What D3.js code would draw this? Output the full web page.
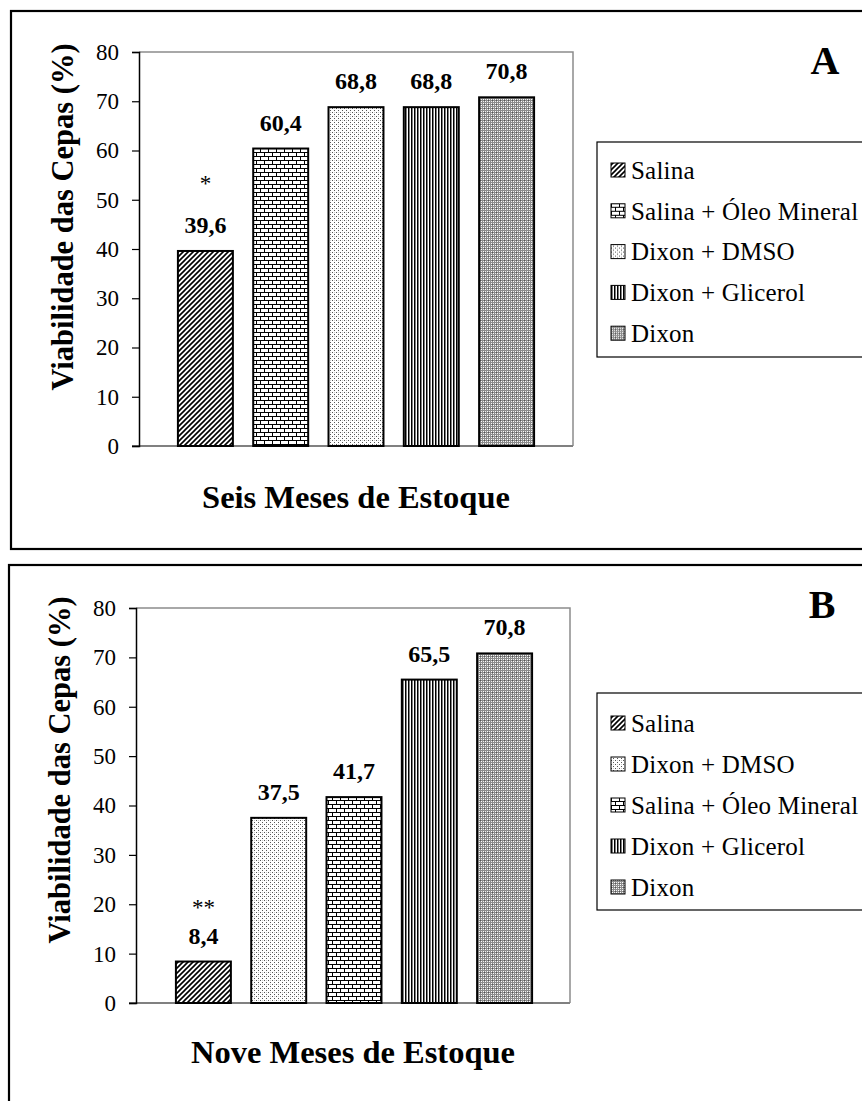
<!DOCTYPE html>
<html>
<head>
<meta charset="utf-8">
<script src="https://cdn.jsdelivr.net/npm/d3@7"></script>
<style>
  body { margin: 0; background: #fff; }
</style>
</head>
<body>
<div id="container"></div>
<script>
/* DATA */
const seriesA = ["Salina", "Salina + Óleo Mineral", "Dixon + DMSO", "Dixon + Glicerol", "Dixon"]
const valuesA = [39.6, 60.4, 68.8, 68.8, 70.8]
const labelsA = ["39,6", "60,4", "68,8", "68,8", "70,8"]
const markA = ["*", "", "", "", ""]

const seriesB = ["Salina", "Dixon + DMSO", "Salina + Óleo Mineral", "Dixon + Glicerol", "Dixon"]
const valuesB = [8.4, 37.5, 41.7, 65.5, 70.8]
const labelsB = ["8,4", "37,5", "41,7", "65,5", "70,8"]
const markB = ["**", "", "", "", ""]

const yTicks = [0, 10, 20, 30, 40, 50, 60, 70, 80]
const yTitle = "Viabilidade das Cepas (%)"

/* CONSTANTS */
const width = 862, height = 1101
const serif = "'Liberation Serif', 'Times New Roman', serif"

const svg = d3.select("#container")
  .append("svg")
  .attr("width", width)
  .attr("height", height)

// fill patterns, one per treatment
const defs = svg.append("defs")
const patternId = {
  "Salina": "p-diag",
  "Salina + Óleo Mineral": "p-brick",
  "Dixon + DMSO": "p-dots",
  "Dixon + Glicerol": "p-vert",
  "Dixon": "p-weave"
}

const diag = defs.append("pattern").attr("id", "p-diag")
  .attr("patternUnits", "userSpaceOnUse").attr("width", 5).attr("height", 5)
diag.append("rect").attr("width", 5).attr("height", 5).attr("fill", "#fff")
diag.append("path").attr("d", "M-1,6 L6,-1 M-2,2 L2,-2 M3,7 L7,3")
  .attr("stroke", "#000").attr("stroke-width", 1.6)

const brick = defs.append("pattern").attr("id", "p-brick")
  .attr("patternUnits", "userSpaceOnUse").attr("width", 8).attr("height", 8)
brick.append("rect").attr("width", 8).attr("height", 8).attr("fill", "#fff")
brick.append("path").attr("d", "M0,0.5 H8 M0,4.5 H8 M0.5,0 V4 M4.5,4 V8")
  .attr("stroke", "#000").attr("stroke-width", 1)

const dots = defs.append("pattern").attr("id", "p-dots")
  .attr("patternUnits", "userSpaceOnUse").attr("width", 4).attr("height", 4)
dots.append("rect").attr("width", 4).attr("height", 4).attr("fill", "#fff")
dots.append("rect").attr("x", 0).attr("y", 0).attr("width", 1).attr("height", 1).attr("fill", "#555")
dots.append("rect").attr("x", 2).attr("y", 2).attr("width", 1).attr("height", 1).attr("fill", "#555")
dots.append("rect").attr("x", 2).attr("y", 0).attr("width", 1).attr("height", 1).attr("fill", "#ccc")

const vert = defs.append("pattern").attr("id", "p-vert")
  .attr("patternUnits", "userSpaceOnUse").attr("width", 3).attr("height", 3)
vert.append("rect").attr("width", 3).attr("height", 3).attr("fill", "#fff")
vert.append("rect").attr("x", 0).attr("width", 1.5).attr("height", 3).attr("fill", "#000")

const weave = defs.append("pattern").attr("id", "p-weave")
  .attr("patternUnits", "userSpaceOnUse").attr("width", 4).attr("height", 4)
weave.append("rect").attr("width", 4).attr("height", 4).attr("fill", "#8c8c8c")
weave.append("rect").attr("x", 1).attr("y", 1).attr("width", 1).attr("height", 1).attr("fill", "#fff")
weave.append("rect").attr("x", 3).attr("y", 3).attr("width", 1).attr("height", 1).attr("fill", "#fff")
weave.append("rect").attr("x", 3).attr("y", 1).attr("width", 1).attr("height", 1).attr("fill", "#eee")
weave.append("rect").attr("x", 1).attr("y", 3).attr("width", 1).attr("height", 1).attr("fill", "#eee")
weave.append("rect").attr("x", 0).attr("y", 0).attr("width", 1).attr("height", 1).attr("fill", "#555")

/* PANELS */
const panels = [
  { letter: "A", series: seriesA, values: valuesA, labels: labelsA, marks: markA,
    xTitle: "Seis Meses de Estoque", markGap: 60,
    frame: { x: 11, y: 11, h: 538 },
    left: 139, right: 573, top: 52, bottom: 446, barRange: [167.75, 544.25],
    yTitlePos: [62, 217], xTitleY: 508, letterPos: [825, 74],
    legend: { x: 597, y: 142, h: 215, row0: 170, step: 40.8 } },
  { letter: "B", series: seriesB, values: valuesB, labels: labelsB, marks: markB,
    xTitle: "Nove Meses de Estoque", markGap: 47,
    frame: { x: 9, y: 565, h: 600 },
    left: 136, right: 570, top: 608, bottom: 1003, barRange: [165.75, 542.25],
    yTitlePos: [59, 770], xTitleY: 1063, letterPos: [822, 618],
    legend: { x: 597, y: 693, h: 217, row0: 723, step: 41 } }
]

panels.forEach(p => {
  const g = svg.append("g")

  // outer frame (runs off the right edge of the page)
  g.append("rect")
    .attr("x", p.frame.x).attr("y", p.frame.y)
    .attr("width", 900).attr("height", p.frame.h)
    .attr("fill", "none").attr("stroke", "#000").attr("stroke-width", 2.2)

  /* SCALES */
  const yScale = d3.scaleLinear().domain([0, 80]).range([p.bottom, p.top])
  const xScale = d3.scaleBand().domain(p.series).range(p.barRange)
    .paddingInner(0.27).paddingOuter(0.135)

  // plot area border (top & right, grey)
  g.append("path")
    .attr("d", `M${p.left},${p.top} H${p.right} V${p.bottom}`)
    .attr("fill", "none").attr("stroke", "#8c8c8c").attr("stroke-width", 1.5)

  // x axis baseline
  g.append("line")
    .attr("x1", p.left - 7).attr("x2", p.right)
    .attr("y1", yScale(0)).attr("y2", yScale(0))
    .attr("stroke", "#808080").attr("stroke-width", 2)

  // y axis
  const yAxis = d3.axisLeft(yScale).tickValues(yTicks).tickSize(7).tickPadding(13)
  const ya = g.append("g")
    .attr("transform", `translate(${p.left},0)`)
    .call(yAxis)
  ya.select(".domain").attr("stroke", "#000").attr("stroke-width", 1.5)
  ya.selectAll(".tick line").attr("stroke", "#000").attr("stroke-width", 1.2)
  ya.selectAll(".tick text")
    .style("font-family", serif).style("font-size", "23px").style("fill", "#000")

  // bars
  const data = p.series.map((s, i) => ({ s, v: p.values[i], label: p.labels[i], mark: p.marks[i] }))
  g.selectAll("rect.bar")
    .data(data)
    .join("rect")
    .attr("class", "bar")
    .attr("x", d => xScale(d.s))
    .attr("y", d => yScale(d.v))
    .attr("width", xScale.bandwidth())
    .attr("height", d => yScale(0) - yScale(d.v))
    .attr("fill", d => `url(#${patternId[d.s]})`)
    .attr("stroke", "#000").attr("stroke-width", 2)

  // value labels
  g.selectAll("text.val")
    .data(data)
    .join("text")
    .attr("class", "val")
    .attr("x", d => xScale(d.s) + xScale.bandwidth() / 2)
    .attr("y", d => yScale(d.v) - 18)
    .attr("text-anchor", "middle")
    .style("font-family", serif).style("font-weight", "bold").style("font-size", "24px")
    .text(d => d.label)

  // significance marks
  g.selectAll("text.mark")
    .data(data.filter(d => d.mark))
    .join("text")
    .attr("class", "mark")
    .attr("x", d => xScale(d.s) + xScale.bandwidth() / 2)
    .attr("y", d => yScale(d.v) - p.markGap)
    .attr("text-anchor", "middle")
    .style("font-family", serif).style("font-size", "23px")
    .text(d => d.mark)

  // axis titles
  g.append("text")
    .attr("transform", `translate(${p.yTitlePos[0]},${p.yTitlePos[1]}) rotate(-90)`)
    .attr("text-anchor", "middle").attr("dy", "0.35em")
    .style("font-family", serif).style("font-weight", "bold").style("font-size", "30.5px")
    .text(yTitle)

  g.append("text")
    .attr("x", (p.left + p.right) / 2).attr("y", p.xTitleY)
    .attr("text-anchor", "middle")
    .style("font-family", serif).style("font-weight", "bold").style("font-size", "32.5px")
    .text(p.xTitle)

  g.append("text")
    .attr("x", p.letterPos[0]).attr("y", p.letterPos[1])
    .attr("text-anchor", "middle")
    .style("font-family", serif).style("font-weight", "bold").style("font-size", "40px")
    .text(p.letter)

  // legend
  const lg = g.append("g")
  lg.append("rect")
    .attr("x", p.legend.x).attr("y", p.legend.y)
    .attr("width", 400).attr("height", p.legend.h)
    .attr("fill", "#fff").attr("stroke", "#000").attr("stroke-width", 1.2)

  const items = lg.selectAll("g.item")
    .data(p.series)
    .join("g")
    .attr("class", "item")
    .attr("transform", (d, i) => `translate(${p.legend.x + 14},${p.legend.row0 + i * p.legend.step})`)
  items.append("rect")
    .attr("x", 0).attr("y", -7).attr("width", 14).attr("height", 14)
    .attr("fill", d => `url(#${patternId[d]})`)
    .attr("stroke", "#000").attr("stroke-width", 1)
  items.append("text")
    .attr("x", 20).attr("y", 0).attr("dy", "0.35em")
    .style("font-family", serif).style("font-size", "25px").style("letter-spacing", "0.2px")
    .text(d => d)
})
</script>
</body>
</html>
